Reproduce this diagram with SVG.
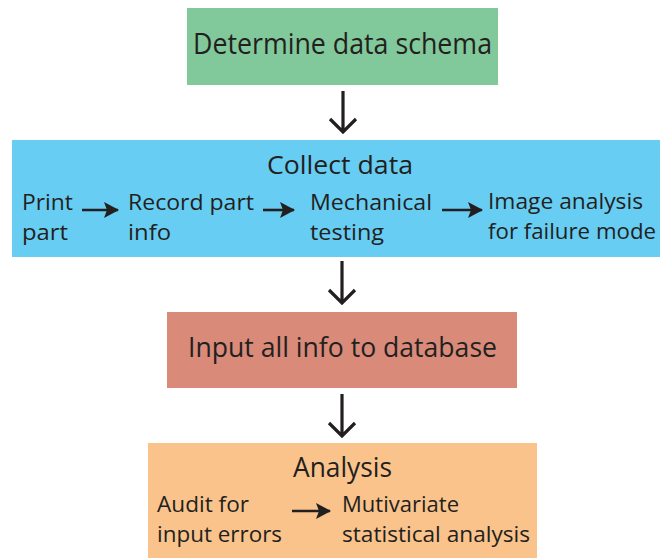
<svg xmlns="http://www.w3.org/2000/svg" width="660" height="558" viewBox="0 0 660 558">
  <style>
    text { font-family: "Open Sans", "Liberation Sans", sans-serif; fill: #231f20; }
    .title { font-size: 27px; }
    .sub { font-size: 22px; }
    .flow { fill: none; stroke: #231f20; stroke-width: 3.2; }
    .step { fill: none; stroke: #231f20; stroke-width: 2.6; }
  </style>
  <defs>
    <marker id="tri" viewBox="0 0 15 16" refX="14" refY="8" markerWidth="15" markerHeight="16" orient="auto" markerUnits="userSpaceOnUse">
      <path d="M0,0 L15,8 L0,16 L3,8 z" fill="#231f20"/>
    </marker>
  </defs>
  <rect width="660" height="558" fill="#ffffff"/>

  <g id="schema">
    <rect x="187" y="8" width="311" height="77" fill="#81c99b"/>
    <text class="title" x="193" y="54" style="font-size:29px" textLength="299" lengthAdjust="spacingAndGlyphs">Determine data schema</text>
  </g>

  <g id="collect">
    <rect x="12" y="140" width="648" height="117" fill="#67cdf3"/>
    <text class="title" x="267" y="174" style="font-size:25px" textLength="146" lengthAdjust="spacingAndGlyphs">Collect data</text>
    <text class="sub" x="22" y="210" textLength="51" lengthAdjust="spacingAndGlyphs">Print</text>
    <text class="sub" x="22" y="240" textLength="46" lengthAdjust="spacingAndGlyphs">part</text>
    <text class="sub" x="128" y="210" textLength="126" lengthAdjust="spacingAndGlyphs">Record part</text>
    <text class="sub" x="128" y="240" textLength="43" lengthAdjust="spacingAndGlyphs">info</text>
    <text class="sub" x="310" y="210" textLength="122" lengthAdjust="spacingAndGlyphs">Mechanical</text>
    <text class="sub" x="310" y="240" textLength="74" lengthAdjust="spacingAndGlyphs">testing</text>
    <text class="sub" x="488" y="209" style="font-size:21px" textLength="155" lengthAdjust="spacingAndGlyphs">Image analysis</text>
    <text class="sub" x="488" y="239" style="font-size:21px" textLength="168" lengthAdjust="spacingAndGlyphs">for failure mode</text>
  </g>

  <g id="input">
    <rect x="167" y="312" width="350" height="76" fill="#d98a79"/>
    <text class="title" x="188" y="357" textLength="309" lengthAdjust="spacingAndGlyphs">Input all info to database</text>
  </g>

  <g id="analysis">
    <rect x="148" y="443" width="389" height="115" fill="#f9c38b"/>
    <text class="title" x="293" y="477" textLength="99" lengthAdjust="spacingAndGlyphs">Analysis</text>
    <text class="sub" x="157" y="512" textLength="92" lengthAdjust="spacingAndGlyphs">Audit for</text>
    <text class="sub" x="157" y="542" textLength="125" lengthAdjust="spacingAndGlyphs">input errors</text>
    <text class="sub" x="342" y="512" textLength="117" lengthAdjust="spacingAndGlyphs">Mutivariate</text>
    <text class="sub" x="342" y="542" textLength="188" lengthAdjust="spacingAndGlyphs">statistical analysis</text>
  </g>

  <g id="connectors">
    <path class="flow" d="M343,91 V132 M330,119 L343,132 L356,119"/>
    <path class="flow" d="M342,261 V303 M329,290 L342,303 L355,290"/>
    <path class="flow" d="M342,394 V436 M329,423 L342,436 L355,423"/>
    <line class="step" x1="82" y1="210" x2="118" y2="210" marker-end="url(#tri)"/>
    <line class="step" x1="263" y1="210" x2="294" y2="210" marker-end="url(#tri)"/>
    <line class="step" x1="442" y1="210" x2="482" y2="210" marker-end="url(#tri)"/>
    <line class="step" x1="292" y1="511" x2="330" y2="511" marker-end="url(#tri)"/>
  </g>
</svg>
